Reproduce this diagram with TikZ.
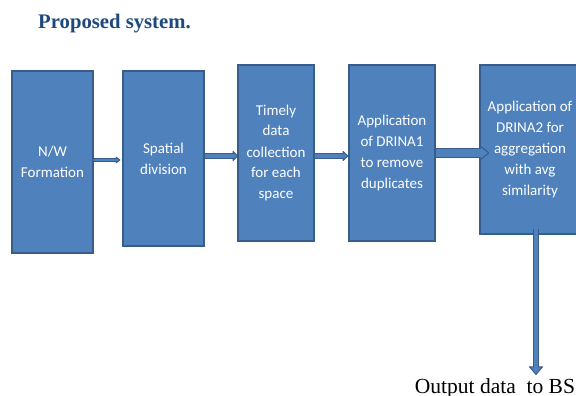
\documentclass[tikz,border=0pt]{standalone}
\usepackage{fontspec}
\setmainfont{Liberation Serif}
\newfontfamily\boxfont{Carlito}
\usetikzlibrary{arrows.meta,calc}
\definecolor{boxfill}{HTML}{4F81BD}
\definecolor{boxedge}{HTML}{385D8A}
\definecolor{titleblue}{HTML}{1F497D}
\tikzset{
  stage/.style={draw=boxedge, fill=boxfill, line width=1.3pt, text=white,
    align=center, inner sep=0pt,
    font=\boxfont\fontsize{15}{21}\selectfont},
  % block arrow: width, head length, head width
  blockarrow/.style n args={3}{draw=boxedge, line width=#1+1.2pt,
    -{Triangle[length=#2,width=#3,fill=boxfill,line width=1pt,round]},
    postaction={draw=boxfill, line width=#1, -, shorten >=#2-1.5pt}},
}
\begin{document}
\begin{tikzpicture}[x=1pt,y=-1pt]
\useasboundingbox (0,0) rectangle (576,396);
\node[anchor=base west, text=titleblue, font=\bfseries\fontsize{20.7}{24}\selectfont, inner sep=0pt] (title) at (38,29) {Proposed system.};
\node[stage, minimum width=81, minimum height=182] (b1) at (52.5,162) {N/W\\Formation};
\node[stage, minimum width=81, minimum height=175] (b2) at (163.5,158.5) {Spatial\\division};
\node[stage, minimum width=76, minimum height=176] (b3) at (276,153) {Timely\\data\\collection\\for each\\space};
\node[stage, minimum width=86, minimum height=176] (b4) at (392,153) {Application\\of DRINA1\\to remove\\duplicates};
\node[stage, minimum width=100, minimum height=169] (b5) at (530,149.5) {Application of\\DRINA2 for\\aggregation\\with avg\\similarity};
\node[anchor=base, font=\fontsize{21.5}{24}\selectfont, inner sep=0pt] (out) at (495,393) {Output data\ \ to BS};
\coordinate (otip) at (536,375);
\draw[blockarrow={2pt}{5pt}{7pt}] ($(b1.east |- b2.west)+(0,1.5)$) -- ($(b2.west)+(-2,1.5)$);
\draw[blockarrow={4.5pt}{6pt}{11pt}] ($(b2.east |- b3.west)+(0,3)$) -- ($(b3.west)+(1,3)$);
\draw[blockarrow={4.5pt}{6pt}{11pt}] ($(b3.east |- b4.west)+(0,3)$) -- ($(b4.west)+(0,3)$);
\draw[blockarrow={8pt}{10pt}{16pt}] ($(b4.east |- b5.west)+(0,3.5)$) -- ($(b5.west)+(10,3.5)$);
\draw[blockarrow={4pt}{9pt}{15pt}] ($(b5.south -| otip)+(0,-6)$) -- (otip);
\end{tikzpicture}
\end{document}
